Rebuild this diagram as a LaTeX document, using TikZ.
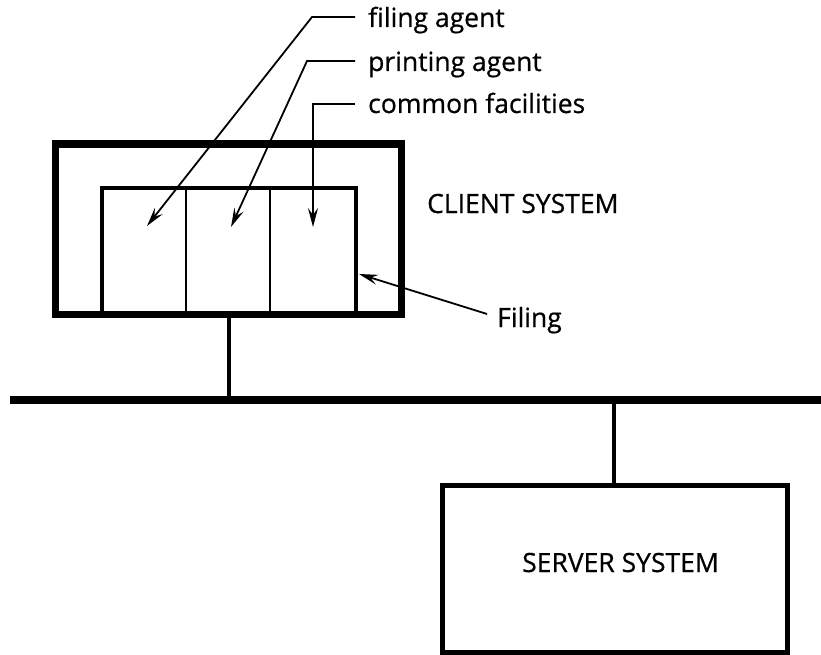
\documentclass[tikz,border=0pt]{standalone}
\usepackage{fontspec}
\setmainfont{Open Sans}[FakeBold=0.6]
\usetikzlibrary{arrows.meta}
\begin{document}
\begin{tikzpicture}[x=1pt,y=-1pt,
  lbl/.style={font=\fontsize{26.5}{31}\selectfont, inner sep=0pt, anchor=base west},
  caplbl/.style={font=\fontsize{26.5}{31}\selectfont, inner sep=0pt, anchor=base west},
  box/.style={draw, inner sep=0pt, line width=5pt},
  cell/.style={draw, inner sep=0pt, line width=1.5pt},
  leader/.style={line width=1.8pt, -{Stealth[length=19pt,width=10pt,inset=7pt]}},
  link/.style={line width=3.5pt}]
\useasboundingbox (0,0) rectangle (821,655);
% client system
\node[box, minimum width=343.5pt, minimum height=167.5pt] (client) at (228.25,229.25) {};
\node[cell, minimum width=84pt, minimum height=125.5pt] (c1) at (144,250.25) {};
\node[cell, minimum width=84pt, minimum height=125.5pt] (c2) at (228,250.25) {};
\node[cell, minimum width=85.5pt, minimum height=125.5pt] (c3) at (312.75,250.25) {};
\node[draw, inner sep=0pt, line width=4pt, minimum width=253.5pt, minimum height=125.5pt] (inner) at (228.75,250.25) {};
\draw[line width=5pt] (client.north west) rectangle (client.south east);
% labels
\node[lbl] (fa) at (368,27) {filing agent};
\node[lbl] (pa) at (368,71) {printing agent};
\node[lbl] (cf) at (368,113) {common facilities};
\node[caplbl] (cs) at (427,213) {CLIENT SYSTEM};
\node[lbl] (fl) at (497,327) {Filing};
% leader bends and targets
\coordinate (fab) at (312,17);
\coordinate (pab) at (307,61);
\coordinate (cfb) at (313,104);
\coordinate (fat) at (147,226);
\coordinate (pat) at (231,227);
\coordinate (cft) at (313,227);
\coordinate (flt) at (359,274);
\coordinate (fls) at (487,314);
\draw[leader] (fa.west |- fab) ++(-13,0) -- (fab) -- (fat);
\draw[leader] (pa.west |- pab) ++(-13,0) -- (pab) -- (pat);
\draw[leader] (cf.west |- cfb) ++(-13,0) -- (cfb) -- (cft);
\draw[leader] (fls) -- (flt);
% network
\coordinate (busl) at (10,400);
\coordinate (busr) at (821,400);
\draw[line width=8.5pt] (busl) -- (busr);
\coordinate (ctap) at (229,400);
\draw[link] (client.south -| ctap) -- (ctap);
% server
\node[box, minimum width=345pt, minimum height=167pt] (server) at (614.5,568.5) {};
\node[caplbl] (ss) at (522,572) {SERVER SYSTEM};
\coordinate (stap) at (614,400);
\draw[link] (stap) -- (server.north -| stap);
\end{tikzpicture}
\end{document}
